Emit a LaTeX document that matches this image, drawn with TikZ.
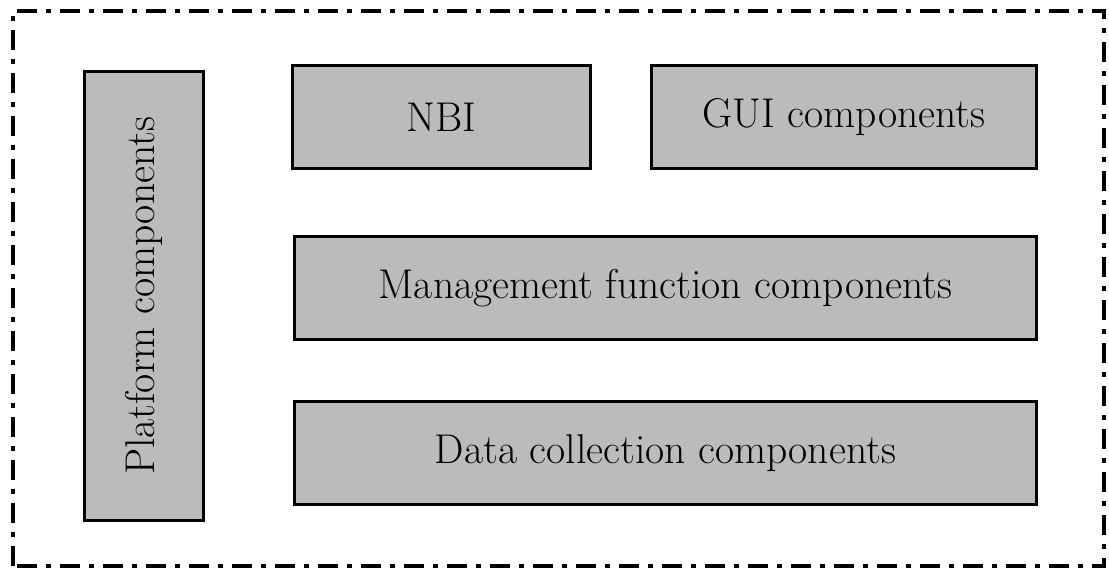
\documentclass[tikz,border=0pt]{standalone}
\usepackage{fontspec}
\begin{document}
\begin{tikzpicture}[x=1pt,y=-1pt,
  comp/.style={draw=black,line width=2.8pt,fill=boxgray,inner sep=0pt,
    font=\fontsize{41.6}{50}\selectfont},
  frame/.style={draw=black,line width=4.5pt,dash pattern=on 20pt off 9pt on 5pt off 9pt}]
\definecolor{boxgray}{HTML}{BBBBBB}
\useasboundingbox (0,0) rectangle (1109,574);
\draw[frame] (13,566) -- (13,11) -- (1104,11) -- (1104,566) -- cycle;
\node[comp,minimum width=119pt,minimum height=449pt,anchor=north west] (plat) at (83,70) {};
\node[rotate=90,font=\fontsize{41.6}{50}\selectfont] (platlabel) at (plat.center) {Platform components};
\node[comp,minimum width=298pt,minimum height=103pt,anchor=north west] (nbi) at (291,64) {NBI};
\node[comp,minimum width=385pt,minimum height=103pt,anchor=north west] (gui) at (650,64) {GUI components};
\node[comp,minimum width=742pt,minimum height=103pt,anchor=north west] (mgmt) at (293,235) {Management function components};
\node[comp,minimum width=742pt,minimum height=103pt,anchor=north west] (data) at (293,400) {Data collection components};
\end{tikzpicture}
\end{document}
